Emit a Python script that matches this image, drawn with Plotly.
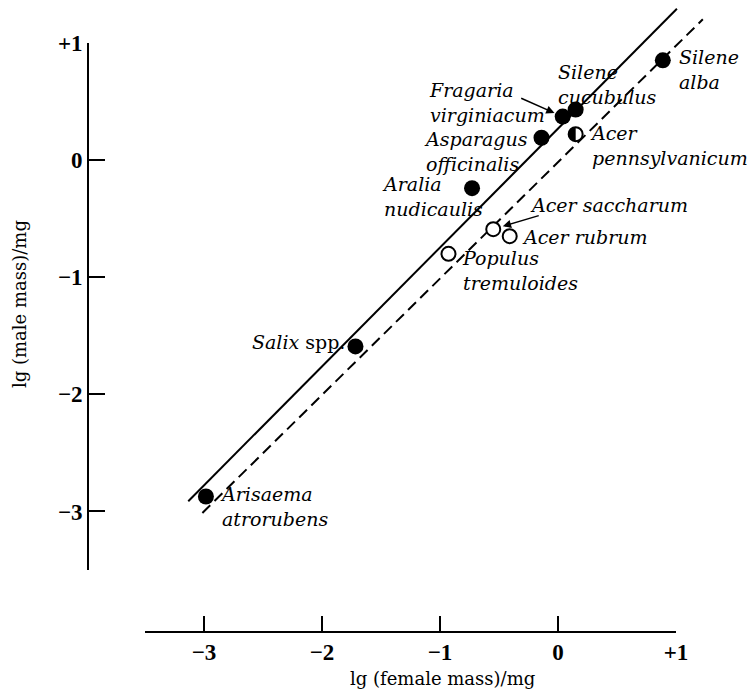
import plotly.graph_objects as go

# ---------------- data ----------------
species = [
    "Arisaema atrorubens", "Salix spp.", "Populus tremuloides", "Acer saccharum",
    "Acer rubrum", "Aralia nudicaulis", "Asparagus officinalis",
    "Acer pennsylvanicum", "Fragaria virginiacum", "Silene cucubulus", "Silene alba",
]
female_lg = [-2.99, -1.72, -0.93, -0.55, -0.41, -0.73, -0.14, 0.15, 0.04, 0.15, 0.89]
male_lg = [-2.87, -1.59, -0.80, -0.59, -0.65, -0.24, 0.19, 0.22, 0.37, 0.43, 0.85]
marker_kind = ["filled", "filled", "open", "open", "open", "filled", "filled",
               "half", "filled", "filled", "filled"]
label_text = [
    "<i>Arisaema<br>atrorubens</i>", "<i>Salix</i> spp.", "<i>Populus<br>tremuloides</i>",
    "<i>Acer saccharum</i>", "<i>Acer rubrum</i>", "<i>Aralia<br>nudicaulis</i>",
    "<i>Asparagus<br>officinalis</i>", "<i>Acer<br>pennsylvanicum</i>",
    "<i>Fragaria<br>virginiacum</i>", "<i>Silene<br>cucubulus</i>", "<i>Silene<br>alba</i>",
]

solid_x = [-3.14, 1.01]
solid_y = [-2.91, 1.29]
dashed_x = [-3.02, 1.23]
dashed_y = [-3.01, 1.20]

x_tickvals = [-3, -2, -1, 0, 1]
x_ticktext = ["\u22123", "\u22122", "\u22121", "0", "+1"]
y_tickvals = [-3, -2, -1, 0, 1]
y_ticktext = ["\u22123", "\u22122", "\u22121", "0", "+1"]
x_title = "lg (female mass)/mg"
y_title = "lg (male mass)/mg"

# ---------------- layout helpers (pixel geometry) ----------------
W, H = 752, 693
X0PX, XUNIT = 558.0, 117.75   # pixel of x=0, pixels per unit
Y0PX, YUNIT = 160.0, 117.25   # pixel of y=0, pixels per unit

# label placement: (xanchor, xshift px, yshift px)
label_pos = {
    "Arisaema atrorubens": ("left", 12, -10),
    "Salix spp.": ("right", -8, 4),
    "Populus tremuloides": ("left", 12, -17),
    "Acer saccharum": ("left", 35, 24),
    "Acer rubrum": ("left", 10, -1),
    "Aralia nudicaulis": ("left", -92, -8),
    "Asparagus officinalis": ("right", -12, -14),
    "Acer pennsylvanicum": ("left", 12, -11),
    "Fragaria virginiacum": ("right", -16, 14),
    "Silene cucubulus": ("left", -20, 25),
    "Silene alba": ("left", 14, -9),
}
arrows = {  # species: (ax, ay, standoff)
    "Fragaria virginiacum": (-43, -19, 9),
    "Acer saccharum": (47, -14, 10),
}

fig = go.Figure()

fig.add_trace(go.Scatter(x=solid_x, y=solid_y, mode="lines",
                         line=dict(color="black", width=2), hoverinfo="skip"))
fig.add_trace(go.Scatter(x=dashed_x, y=dashed_y, mode="lines",
                         line=dict(color="black", width=2, dash="11px,6px"), hoverinfo="skip"))

fx = [x for x, k in zip(female_lg, marker_kind) if k == "filled"]
fy = [y for y, k in zip(male_lg, marker_kind) if k == "filled"]
ox = [x for x, k in zip(female_lg, marker_kind) if k != "filled"]
oy = [y for y, k in zip(male_lg, marker_kind) if k != "filled"]

fig.add_trace(go.Scatter(x=fx, y=fy, mode="markers",
                         marker=dict(symbol="circle", size=16, color="black",
                                     line=dict(width=0)), cliponaxis=False))
fig.add_trace(go.Scatter(x=ox, y=oy, mode="markers",
                         marker=dict(symbol="circle", size=14, color="white",
                                     line=dict(width=2, color="black")), cliponaxis=False))

# half-filled marker (left half black), anchored at the data point
r = 7.0
k = 0.5523 * r
half_path = (f"M 0,{r} C {-k},{r} {-r},{k} {-r},0 "
             f"C {-r},{-k} {-k},{-r} 0,{-r} Z")
for x, y, kind in zip(female_lg, male_lg, marker_kind):
    if kind == "half":
        fig.add_shape(type="path", xref="x", yref="y", xsizemode="pixel",
                      ysizemode="pixel", xanchor=x, yanchor=y, path=half_path,
                      fillcolor="black", line=dict(width=0), layer="above")

# empty trace to create the detached decorative axes subplot
fig.add_trace(go.Scatter(x=[], y=[], xaxis="x2", yaxis="y2", mode="markers"))

label_font = dict(family="DejaVu Serif", size=19, color="black")
for name, x, y, txt in zip(species, female_lg, male_lg, label_text):
    xa, xs, ys = label_pos[name]
    fig.add_annotation(x=x, y=y, xref="x", yref="y", text=txt, showarrow=False,
                       xanchor=xa, yanchor="middle", align="left",
                       xshift=xs, yshift=ys, font=label_font)
    if name in arrows:
        ax, ay, so = arrows[name]
        fig.add_annotation(x=x, y=y, xref="x", yref="y", text="", showarrow=True,
                           ax=ax, ay=ay, arrowhead=2, arrowsize=1.1, arrowwidth=1.5,
                           arrowcolor="black", standoff=so)

# axis titles
title_font = dict(family="DejaVu Serif", size=18, color="black")
fig.add_annotation(x=442 / W, y=1 - 678 / H, xref="paper", yref="paper",
                   text=x_title, showarrow=False, xanchor="center", yanchor="middle",
                   font=title_font)
fig.add_annotation(x=19 / W, y=1 - 304 / H, xref="paper", yref="paper",
                   text=y_title, showarrow=False, xanchor="center", yanchor="middle",
                   textangle=-90, font=title_font)

tick_font = dict(family="Liberation Serif", size=23, color="black", weight="bold")

fig.update_layout(
    template="none",
    width=W, height=H,
    margin=dict(l=0, r=0, t=0, b=0, pad=0, autoexpand=False),
    paper_bgcolor="white", plot_bgcolor="rgba(0,0,0,0)",
    showlegend=False,
    xaxis=dict(domain=[0, 1], range=[(0 - X0PX) / XUNIT, (W - X0PX) / XUNIT],
               visible=False, fixedrange=True, automargin=False),
    yaxis=dict(domain=[0, 1], range=[(Y0PX - H) / YUNIT, Y0PX / YUNIT],
               visible=False, fixedrange=True, automargin=False),
    xaxis2=dict(domain=[145 / W, 676 / W], range=[-3.5, 1], anchor="free",
                position=1 - 632 / H, showline=True, linecolor="black", linewidth=1.6,
                ticks="inside", ticklen=15, tickwidth=1.6, tickcolor="black",
                tickvals=x_tickvals, ticktext=x_ticktext, tickfont=tick_font,
                showgrid=False, zeroline=False, fixedrange=True, automargin=False),
    yaxis2=dict(domain=[1 - 570 / H, 1 - 43 / H], range=[-3.5, 1], anchor="free",
                position=88 / W, showline=True, linecolor="black", linewidth=1.6,
                ticks="inside", ticklen=16, tickwidth=1.6, tickcolor="black",
                tickvals=y_tickvals, ticktext=y_ticktext, tickfont=tick_font,
                showgrid=False, zeroline=False, fixedrange=True, automargin=False),
)

post_js = (
    "document.documentElement.style.margin='0';"
    "document.body.style.margin='0';document.body.style.overflow='hidden';"
    "var gd=document.getElementById('{plot_id}');"
    "gd.style.position='absolute';gd.style.left='0px';gd.style.top='0px';"
)
fig.write_html("out.html", post_script=post_js, config={"displayModeBar": False})
